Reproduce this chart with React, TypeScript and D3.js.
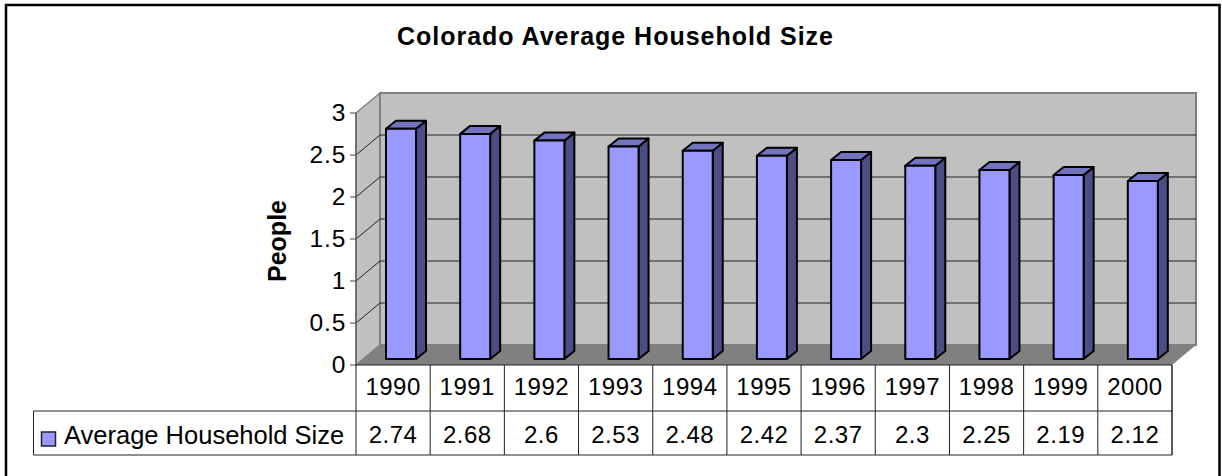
import React from "react";
import * as d3 from "d3";

const years = ["1990","1991","1992","1993","1994","1995","1996","1997","1998","1999","2000"];
const sizes = [2.74,2.68,2.6,2.53,2.48,2.42,2.37,2.3,2.25,2.19,2.12];
const sizeLabels = ["2.74","2.68","2.6","2.53","2.48","2.42","2.37","2.3","2.25","2.19","2.12"];
const yTicks = [0,0.5,1,1.5,2,2.5,3];
const title = "Colorado Average Household Size";
const yTitle = "People";
const seriesName = "Average Household Size";

const FONT = "'Liberation Sans', Arial, sans-serif";
const dx = 24, dy = 20;

export default function App() {
  const x = d3.scaleBand<string>().domain(years).range([356, 1172]);
  const y = d3.scaleLinear().domain([0, 3]).range([365, 113]);
  const bw = x.bandwidth();
  const p = (pts: [number, number][]) => d3.line()(pts) + "Z";
  const [L, R] = [356, 1172];
  const y0 = y(0), y3 = y(3);
  return (
    <svg width={1222} height={476} style={{ position: "absolute", left: 0, top: 0 }} fontFamily={FONT}>
      <rect x={0} y={0} width={1222} height={476} fill="#fff" />
      <rect x={6} y={5} width={1213.5} height={480} fill="#fff" stroke="#000" strokeWidth={2.5} />
      <text x={615} y={44.5} textAnchor="middle" fontSize={25} fontWeight="bold" textLength={436} lengthAdjust="spacing">{title}</text>

      {/* walls */}
      <path d={p([[L,y0],[L+dx,y0-dy],[L+dx,y3-dy],[L,y3]])} fill="#c0c0c0" stroke="#808080" strokeWidth={1.5} />
      <path d={p([[L+dx,y0-dy],[R+dx,y0-dy],[R+dx,y3-dy],[L+dx,y3-dy]])} fill="#c0c0c0" stroke="#808080" strokeWidth={2} />
      <path d={p([[L,y0],[R,y0],[R+dx,y0-dy],[L+dx,y0-dy]])} fill="#808080" />
      {yTicks.filter(t => t > 0 && t < 3).map(t => (
        <path key={t} d={`M${L},${y(t)}L${L+dx},${y(t)-dy}H${R+dx}`} fill="none" stroke="#222" strokeWidth={1} />
      ))}

      {/* y axis */}
      <line x1={L} y1={y3} x2={L} y2={y0} stroke="#666" strokeWidth={1.5} />
      {yTicks.map(t => (
        <g key={t}>
          <line x1={L-6} x2={L} y1={y(t)} y2={y(t)} stroke="#444" />
          <text x={346.5} y={y(t)+8} textAnchor="end" fontSize={24.5} letterSpacing={1}>{String(t)}</text>
        </g>
      ))}
      <text transform="translate(286,241) rotate(-90)" textAnchor="middle" fontSize={25} fontWeight="bold">{yTitle}</text>

      {/* bars */}
      {sizes.map((v, i) => {
        const left = x(years[i])! + 30;
        const w = 30, ddx = 10, ddy = 8;
        const base = y0 - 6;
        const top = base - (y0 - y(v));
        return (
          <g key={years[i]} stroke="#000" strokeWidth={2} strokeLinejoin="round">
            <path d={p([[left+w,base],[left+w+ddx,base-ddy],[left+w+ddx,top-ddy],[left+w,top]])} fill="#4d4d85" />
            <path d={p([[left,top],[left+w,top],[left+w+ddx,top-ddy],[left+ddx,top-ddy]])} fill="#7373bf" />
            <rect x={left} y={top} width={w} height={base-top} fill="#9999ff" />
          </g>
        );
      })}

      {/* data table */}
      <g stroke="#222" strokeWidth={1} fill="none">
        <path d={`M${L},${y0}H${R}V455H33.5V411H${R}M${L},${y0}V455`} />
        {years.map(yr => (
          <line key={yr} x1={x(yr)! + bw} x2={x(yr)! + bw} y1={y0} y2={455} />
        ))}
      </g>
      {years.map((yr, i) => (
        <g key={yr} fontSize={24} textAnchor="middle" letterSpacing={0.5}>
          <text x={x(yr)! + bw/2} y={395}>{yr}</text>
          <text x={x(yr)! + bw/2} y={443}>{sizeLabels[i]}</text>
        </g>
      ))}
      <rect x={41.5} y={432} width={14} height={14} fill="#9999ff" stroke="#222" strokeWidth={1.5} />
      <text x={64} y={444} fontSize={25.5}>{seriesName}</text>
    </svg>
  );
}
